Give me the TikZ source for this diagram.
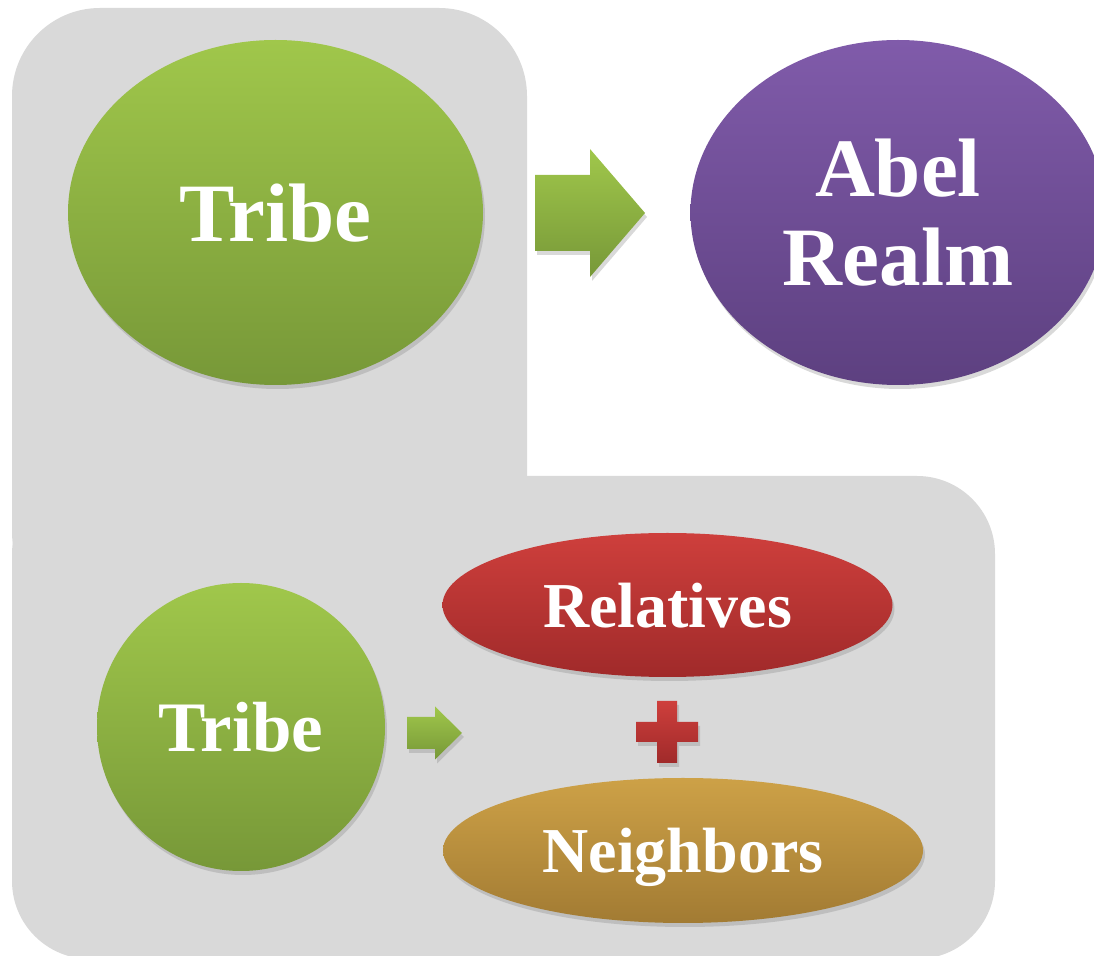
\documentclass[tikz,border=0pt]{standalone}
\usepackage{fontspec}
\setmainfont{Liberation Serif}
\usetikzlibrary{shapes.geometric,shadows}
\definecolor{panelgray}{RGB}{217,217,217}
\definecolor{greentop}{RGB}{160,199,75}
\definecolor{greenbot}{RGB}{119,152,56}
\definecolor{purpletop}{RGB}{128,91,170}
\definecolor{purplebot}{RGB}{93,64,128}
\definecolor{redtop}{RGB}{206,63,60}
\definecolor{redbot}{RGB}{160,42,42}
\definecolor{goldtop}{RGB}{205,161,71}
\definecolor{goldbot}{RGB}{162,123,51}
\begin{document}
\begin{tikzpicture}[x=.5pt,y=-.5pt,
  softshadow/.style={drop shadow={shadow xshift=1pt,shadow yshift=-2pt,opacity=.3}},
  blob/.style={ellipse,inner sep=0pt,text=white,text depth=0pt,softshadow},
  greenfill/.style={top color=greentop,bottom color=greenbot},
  purplefill/.style={top color=purpletop,bottom color=purplebot},
  redfill/.style={top color=redtop,bottom color=redbot},
  goldfill/.style={top color=goldtop,bottom color=goldbot},
  blockarrow/.style={greenfill,softshadow},
  bigfont/.style={font=\bfseries\fontsize{41.5}{44.5}\selectfont},
  smallfont/.style={font=\bfseries\fontsize{32}{36}\selectfont}]
  \useasboundingbox (0,0) rectangle (1094,956);
  \fill[panelgray,rounded corners=44pt] (12,8) rectangle (527,620);
  \fill[panelgray,rounded corners=39pt] (12,476) rectangle (995,959);

  \node[blob,greenfill,bigfont,minimum width=207.5pt,minimum height=172.5pt]
    (tribe) at (275.5,212.5) {Tribe};
  \node[blob,purplefill,bigfont,align=center,minimum width=207.5pt,minimum height=172.5pt]
    (realm) at (898,212.5) {Abel\\Realm};
  \begin{scope}[shift={(590,213)}]
    \path[blockarrow] (-55,-38) -- (0,-38) -- (0,-64) -- (55,0) --
      (0,64) -- (0,38) -- (-55,38) -- cycle;
  \end{scope}

  \node[blob,greenfill,font=\bfseries\fontsize{35.5}{40}\selectfont,minimum size=144pt]
    (tribelow) at (241,727) {Tribe};
  \begin{scope}[shift={(434.5,733)}]
    \path[blockarrow] (-27.5,-16) -- (0.5,-16) -- (0.5,-26.5) -- (27.5,0) --
      (0.5,26.5) -- (0.5,16) -- (-27.5,16) -- cycle;
  \end{scope}
  \node[blob,redfill,smallfont,minimum width=225pt,minimum height=72pt]
    (relatives) at (667.5,605) {Relatives};
  \node[blob,goldfill,smallfont,minimum width=240pt,minimum height=72.5pt]
    (neighbors) at (683,850.5) {Neighbors};
  \begin{scope}[shift={(667,732)}]
    \path[redfill,softshadow] (-31,-10) -- (-10,-10) -- (-10,-31) -- (10,-31) --
      (10,-10) -- (31,-10) -- (31,10) -- (10,10) -- (10,31) -- (-10,31) --
      (-10,10) -- (-31,10) -- cycle;
  \end{scope}
\end{tikzpicture}
\end{document}
